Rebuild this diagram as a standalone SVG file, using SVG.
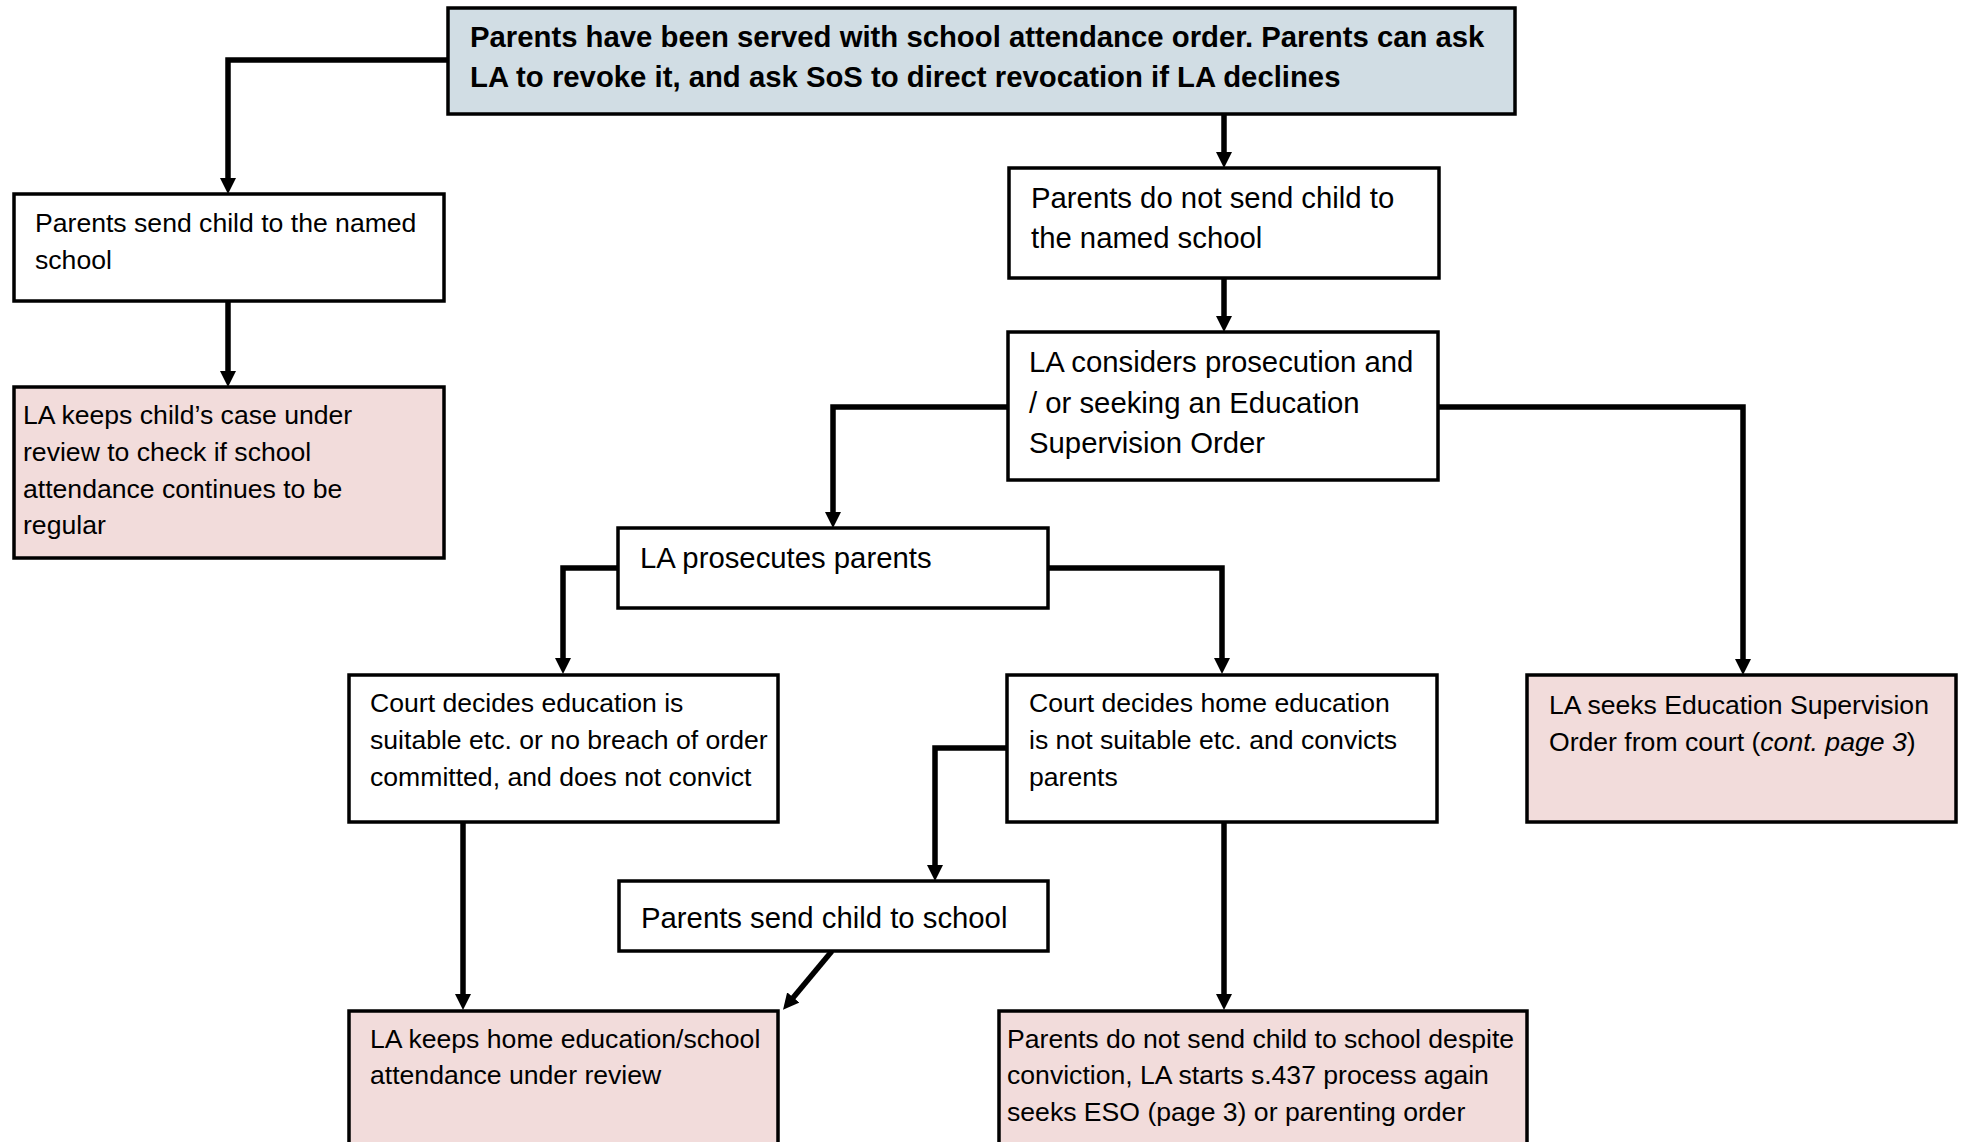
<svg xmlns="http://www.w3.org/2000/svg" width="1966" height="1142" viewBox="0 0 1966 1142">
<style>
.box{fill:#fff;stroke:#000;stroke-width:3.5}
.blue{fill:#D1DDE4}
.pink{fill:#F2DCDB}
.t{font-family:"Liberation Sans",Arial,sans-serif;fill:#000}
.s{font-size:26.6px}
.l{font-size:29.3px}
.b{font-weight:bold}
.c{fill:none;stroke:#000;stroke-width:5.5;stroke-linejoin:miter}
</style>
<defs>
<marker id="ah" markerUnits="userSpaceOnUse" viewBox="0 0 16 16" refX="2" refY="8" markerWidth="16" markerHeight="16" orient="auto">
<path d="M0,0 L16,8 L0,16 Z" fill="#000"/>
</marker>
</defs>
<rect width="1966" height="1142" fill="#fff"/>
<g id="connectors">
<path class="c" d="M448,60 H228 V180" marker-end="url(#ah)"/>
<path class="c" d="M228,301 V373" marker-end="url(#ah)"/>
<path class="c" d="M1224,114 V154" marker-end="url(#ah)"/>
<path class="c" d="M1224,278 V318" marker-end="url(#ah)"/>
<path class="c" d="M1008,407 H833 V514" marker-end="url(#ah)"/>
<path class="c" d="M1438,407 H1743 V661" marker-end="url(#ah)"/>
<path class="c" d="M618,568 H563 V660" marker-end="url(#ah)"/>
<path class="c" d="M1048,568 H1222 V660" marker-end="url(#ah)"/>
<path class="c" d="M1007,748 H935 V867" marker-end="url(#ah)"/>
<path class="c" d="M463,822 V996" marker-end="url(#ah)"/>
<path class="c" d="M1224,822 V996" marker-end="url(#ah)"/>
<path class="c" d="M832,951 L792,999" marker-end="url(#ah)"/>
</g>
<g id="n-top">
<rect class="box blue" x="448" y="8" width="1067" height="106"/>
<text class="t l b" x="470" y="47">Parents have been served with school attendance order. Parents can ask</text>
<text class="t l b" x="470" y="87">LA to revoke it, and ask SoS to direct revocation if LA declines</text>
</g>
<g id="n-send-named">
<rect class="box" x="14" y="194" width="430" height="107"/>
<text class="t s" x="35" y="232">Parents send child to the named</text>
<text class="t s" x="35" y="269">school</text>
</g>
<g id="n-review-case">
<rect class="box pink" x="14" y="387" width="430" height="171"/>
<text class="t s" x="23" y="424">LA keeps child’s case under</text>
<text class="t s" x="23" y="461">review to check if school</text>
<text class="t s" x="23" y="498">attendance continues to be</text>
<text class="t s" x="23" y="534">regular</text>
</g>
<g id="n-not-send">
<rect class="box" x="1009" y="168" width="430" height="110"/>
<text class="t l" x="1031" y="208">Parents do not send child to</text>
<text class="t l" x="1031" y="248">the named school</text>
</g>
<g id="n-considers">
<rect class="box" x="1008" y="332" width="430" height="148"/>
<text class="t l" x="1029" y="372">LA considers prosecution and</text>
<text class="t l" x="1029" y="413">/ or seeking an Education</text>
<text class="t l" x="1029" y="453">Supervision Order</text>
</g>
<g id="n-prosecutes">
<rect class="box" x="618" y="528" width="430" height="80"/>
<text class="t l" x="640" y="568">LA prosecutes parents</text>
</g>
<g id="n-eso">
<rect class="box pink" x="1527" y="675" width="429" height="147"/>
<text class="t s" x="1549" y="714">LA seeks Education Supervision</text>
<text class="t s" x="1549" y="751">Order from court (<tspan font-style="italic">cont. page 3</tspan>)</text>
</g>
<g id="n-no-convict">
<rect class="box" x="349" y="675" width="429" height="147"/>
<text class="t s" x="370" y="712">Court decides education is</text>
<text class="t s" x="370" y="749">suitable etc. or no breach of order</text>
<text class="t s" x="370" y="786">committed, and does not convict</text>
</g>
<g id="n-convicts">
<rect class="box" x="1007" y="675" width="430" height="147"/>
<text class="t s" x="1029" y="712">Court decides home education</text>
<text class="t s" x="1029" y="749">is not suitable etc. and convicts</text>
<text class="t s" x="1029" y="786">parents</text>
</g>
<g id="n-send-school">
<rect class="box" x="619" y="881" width="429" height="70"/>
<text class="t l" x="641" y="928">Parents send child to school</text>
</g>
<g id="n-keeps-review">
<rect class="box pink" x="349" y="1011" width="429" height="150"/>
<text class="t s" x="370" y="1048">LA keeps home education/school</text>
<text class="t s" x="370" y="1084">attendance under review</text>
</g>
<g id="n-despite">
<rect class="box pink" x="999" y="1011" width="528" height="150"/>
<text class="t s" x="1007" y="1048">Parents do not send child to school despite</text>
<text class="t s" x="1007" y="1084">conviction, LA starts s.437 process again</text>
<text class="t s" x="1007" y="1121">seeks ESO (page 3) or parenting order</text>
</g>
</svg>
